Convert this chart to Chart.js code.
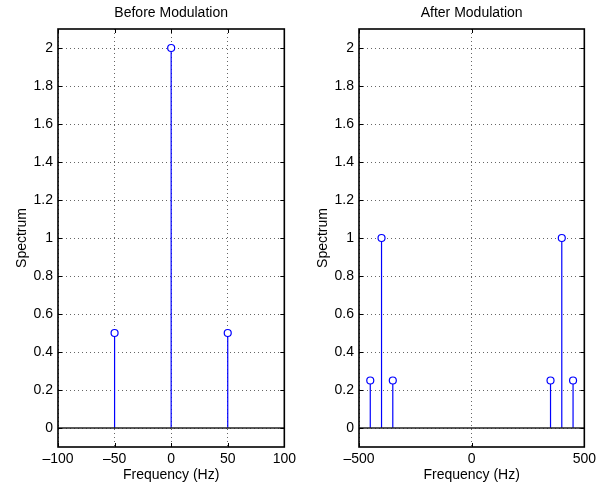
<!DOCTYPE html>
<html>
<head>
<meta charset="utf-8">
<script src="https://cdn.jsdelivr.net/npm/chart.js@4.4.0/dist/chart.umd.min.js"></script>
<style>
  html, body { margin: 0; padding: 0; background: #fff; }
  #wrap { position: relative; width: 600px; height: 485px; }
  .panel { position: absolute; top: 0; width: 300px; height: 485px; }
</style>
</head>
<body>
<div id="wrap">
  <div class="panel" style="left:0"><canvas id="before"></canvas></div>
  <div class="panel" style="left:300px"><canvas id="after"></canvas></div>
</div>
<script>
// data
const beforeFreqs = [-50, 0, 50];
const beforeValues = [0.5, 2, 0.5];
const afterFreqs = [-450, -400, -350, 350, 400, 450];
const afterValues = [0.25, 1, 0.25, 0.25, 1, 0.25];

const beforeXTicks = [-100, -50, 0, 50, 100];
const afterXTicks = [-500, 0, 500];
const yTicks = [0, 0.2, 0.4, 0.6, 0.8, 1, 1.2, 1.4, 1.6, 1.8, 2];

const FONT = "'Liberation Sans', Arial, Helvetica, sans-serif";

// MATLAB style box + inward tick marks
const boxPlugin = {
  id: "box",
  afterDraw(chart) {
    const { ctx, chartArea: a, scales } = chart;
    ctx.save();
    ctx.strokeStyle = "#000";
    ctx.lineWidth = 1;
    ctx.beginPath();
    scales.x.ticks.forEach((t) => {
      const px = Math.round(scales.x.getPixelForValue(t.value)) + 0.5;
      ctx.moveTo(px, a.top); ctx.lineTo(px, a.top + 4);
      ctx.moveTo(px, a.bottom); ctx.lineTo(px, a.bottom - 4);
    });
    scales.y.ticks.forEach((t) => {
      const py = Math.round(scales.y.getPixelForValue(t.value)) + 0.5;
      ctx.moveTo(a.left, py); ctx.lineTo(a.left + 4, py);
      ctx.moveTo(a.right, py); ctx.lineTo(a.right - 4, py);
    });
    ctx.stroke();
    ctx.lineWidth = 1.6;
    ctx.strokeRect(a.left, a.top, a.right - a.left, a.bottom - a.top);
    ctx.restore();
  },
};

function fmt(v) {
  return String(v).replace("-", "\u2013");
}

function makeStemChart(id, title, freqs, values, xTicks, yTitlePad) {
  const xMin = xTicks[0];
  const xMax = xTicks[xTicks.length - 1];

  const datasets = [];
  // baseline at zero
  datasets.push({
    data: [{ x: xMin, y: 0 }, { x: xMax, y: 0 }],
    borderColor: "#222",
    borderWidth: 1.3,
    pointRadius: 0,
  });
  // one stem per frequency
  freqs.forEach((f, i) => {
    datasets.push({
      data: [{ x: f, y: 0 }, { x: f, y: values[i] }],
      borderColor: "#0000ff",
      borderWidth: 1.2,
      pointRadius: [0, 3.5],
      pointBorderWidth: 1.2,
      pointBorderColor: "#0000ff",
      pointBackgroundColor: "#fff",
    });
  });

  const gridOpts = {
    color: "#666",
    lineWidth: 1,
    drawTicks: false,
    tickLength: 0,
  };

  return new Chart(document.getElementById(id), {
    type: "line",
    data: { datasets },
    options: {
      responsive: true,
      maintainAspectRatio: false,
      animation: false,
      layout: { padding: { left: 0, right: id === "before" ? 13 : 12, top: 0, bottom: 0 } },
      plugins: {
        legend: { display: false },
        tooltip: { enabled: false },
      },
      scales: {
        x: {
          type: "linear",
          position: "bottom",
          min: xMin,
          max: xMax,
          afterBuildTicks: (s) => { s.ticks = xTicks.map((v) => ({ value: v })); },
          afterFit: (s) => { s.height = 38; },
          ticks: {
            callback: (v) => fmt(v),
            color: "#000",
            padding: 4,
            maxRotation: 0,
            font: { family: FONT, size: 14 },
          },
          grid: gridOpts,
          border: { display: false, dash: [1, 3] },
          title: {
            display: true,
            text: "Frequency (Hz)",
            color: "#000",
            font: { family: FONT, size: 14 },
            padding: { top: 0, bottom: 1.6 },
          },
        },
        // top axis only carries the subplot title, centred over the plot box
        xTop: {
          type: "linear",
          position: "top",
          min: xMin,
          max: xMax,
          afterFit: (s) => { s.height = 29; },
          ticks: { display: false },
          grid: { display: false },
          border: { display: false },
          title: {
            display: true,
            text: title,
            color: "#000",
            font: { family: FONT, size: 14 },
            padding: { top: 4.5, bottom: 0 },
          },
        },
        y: {
          type: "linear",
          min: -0.1,
          max: 2.1,
          afterBuildTicks: (s) => { s.ticks = yTicks.map((v) => ({ value: v })); },
          afterFit: (s) => { s.width = id === "before" ? 58 : 59; },
          ticks: {
            callback: (v) => fmt(v),
            color: "#000",
            padding: 5,
            font: { family: FONT, size: 14 },
          },
          grid: gridOpts,
          border: { display: false, dash: [1, 3] },
          title: {
            display: true,
            text: "Spectrum",
            color: "#000",
            font: { family: FONT, size: 14 },
            padding: { top: yTitlePad, bottom: 0 },
          },
        },
      },
    },
    plugins: [boxPlugin],
  });
}

makeStemChart("before", "Before Modulation", beforeFreqs, beforeValues, beforeXTicks, 13.3);
makeStemChart("after", "After Modulation", afterFreqs, afterValues, afterXTicks, 14.3);
</script>
</body>
</html>
